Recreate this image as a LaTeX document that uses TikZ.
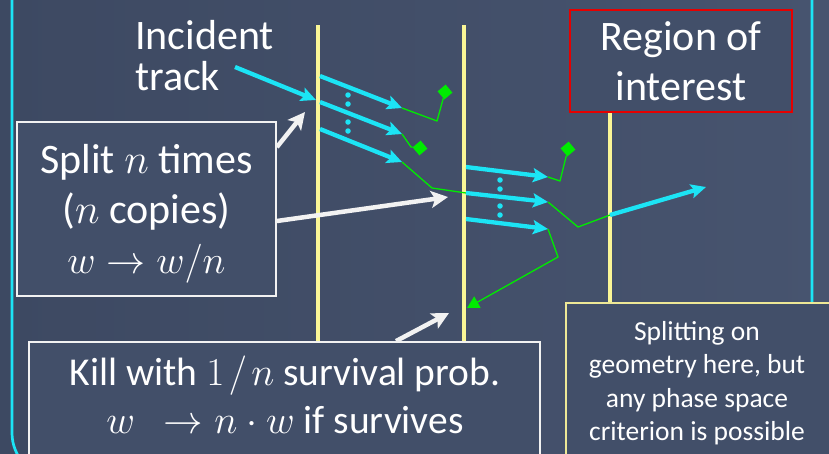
\RequirePackage{fix-cm}
\documentclass[tikz,border=0pt]{standalone}
\usepackage{fontspec}
\setmainfont{Carlito}
\usetikzlibrary{arrows.meta,calc}

\definecolor{bgL}{RGB}{61,73,98}
\definecolor{bgR}{RGB}{71,84,111}
\definecolor{boxfill}{RGB}{66,79,105}
\definecolor{trackcyan}{RGB}{28,228,245}
\definecolor{planeyellow}{RGB}{250,246,150}
\definecolor{noteyellow}{RGB}{238,232,150}
\definecolor{secgreen}{RGB}{0,235,0}
\definecolor{roired}{RGB}{230,0,0}
\definecolor{lightwhite}{RGB}{242,242,242}

\tikzset{
  plane/.style={draw=planeyellow, line width=3.2pt},
  track/.style={draw=trackcyan, line width=4.3pt,
    -{Stealth[length=15pt,width=14pt,inset=3pt]}},
  secondary/.style={draw=secgreen, line width=1.3pt, line join=round},
  hint/.style={draw=lightwhite, line width=4.5pt,
    -{Stealth[length=17pt,width=17pt,inset=4pt]}},
  whitebox/.style={draw=lightwhite, line width=1.8pt, fill=boxfill,
    inner sep=0pt, rectangle},
  dot/.style={circle, fill=trackcyan, inner sep=0pt, minimum size=5.5pt},
  gem/.style={rectangle, fill=secgreen, inner sep=0pt, minimum size=10.5pt, rotate=40},
  big/.style={text=white, inner sep=0pt, font=\fontsize{42}{50}\selectfont},
  bigmath/.style={text=white, inner sep=0pt, font=\fontsize{39}{50}\selectfont},
  mid/.style={text=white, inner sep=0pt, font=\fontsize{39.5}{47}\selectfont},
  small/.style={text=white, inner sep=0pt, font=\fontsize{27.5}{33}\selectfont},
}

\begin{document}
\begin{tikzpicture}[x=1pt,y=-1pt]
  % canvas
  \useasboundingbox (0,0) rectangle (829,453);
  \shade[left color=bgL, right color=bgR] (0,0) rectangle (829,453);

  % outer rounded frame
  \draw[trackcyan, line width=2.7pt, rounded corners=45pt] (12,-60) rectangle (812,478);

  % splitting planes
  \draw[plane] (318,25) -- (318,350);
  \draw[plane] (464,25) -- (464,350);
  \draw[plane] (610,112) -- (610,303);

  % boxes
  \node[whitebox, minimum width=259pt, minimum height=174pt] (split) at (146.5,209) {};
  \node[whitebox, minimum width=511pt, minimum height=128pt] (kill) at (284.5,406) {};
  \node[rectangle, draw=roired, line width=2.5pt, fill=boxfill, inner sep=0pt,
        minimum width=222pt, minimum height=102pt] (roi) at (681,61) {};
  \node[rectangle, draw=noteyellow, line width=1.8pt, fill=boxfill, inner sep=0pt,
        minimum width=279pt, minimum height=177pt] (note) at (705.5,391.5) {};

  % points along the tracks
  \coordinate (inc0) at (235,67);
  \coordinate (inc1) at (316,100);
  \coordinate (a1s) at (320,76);  \coordinate (a1e) at (402,108);
  \coordinate (a2s) at (320,102); \coordinate (a2e) at (402,134);
  \coordinate (a3s) at (320,129); \coordinate (a3e) at (402,162);
  \coordinate (b1s) at (466,167); \coordinate (b1e) at (548,177);
  \coordinate (b2s) at (466,193); \coordinate (b2e) at (548,202);
  \coordinate (b3s) at (466,219); \coordinate (b3e) at (548,229);
  \coordinate (c1s) at (610,215); \coordinate (c1e) at (706,187);
  \coordinate (g1) at (437,121);
  \coordinate (g2) at (411,147);
  \coordinate (g3) at (432,188);
  \coordinate (h1) at (560,181);
  \coordinate (h2) at (578,227);
  \coordinate (h3) at (558,257);
  \coordinate (back) at (467,308);

  % secondaries that end
  \node[gem] (d1) at (445,92) {};
  \node[gem] (d2) at (420,148) {};
  \node[gem] (d3) at (568,149) {};

  % secondary (green) paths
  \draw[secondary] (a1e) -- (g1) -- (d1);
  \draw[secondary] (a2e) -- (g2) -- (d2);
  \draw[secondary] (a3e) -- (g3) -- (b2s);
  \draw[secondary] (b1e) -- (h1) -- (d3);
  \draw[secondary] (b2e) -- (h2) -- (c1s);
  \draw[secondary, -{Triangle[length=12pt,width=13pt]}] (b3e) -- (h3) -- (back);

  % cyan tracks
  \draw[track] (inc0) -- (inc1);
  \draw[track] (a1s) -- (a1e);
  \draw[track] (a2s) -- (a2e);
  \draw[track] (a3s) -- (a3e);
  \draw[track] (b1s) -- (b1e);
  \draw[track] (b2s) -- (b2e);
  \draw[track] (b3s) -- (b3e);
  \draw[track] (c1s) -- (c1e);

  % copies indicated by dots
  \foreach \y [count=\i] in {95,104,122,131} \node[dot] (p\i) at (348,\y) {};
  \foreach \y [count=\i] in {180,189,206,215} \node[dot] (q\i) at (500,\y) {};

  % pointers from the boxes
  \coordinate (t1) at (305,112);
  \coordinate (t2) at (448,197);
  \coordinate (t3) at (449,313);
  \draw[hint] ($(split.north east)+(0,26)$) -- (t1);
  \draw[hint] ($(split.east)+(0,12)$) -- (t2);
  \draw[hint] ($(kill.north)+(111.5,0)$) -- (t3);

  % labels
  \node[big, anchor=base west] (incA) at (135,49) {Incident};
  \node[big, anchor=base west] (incB) at (135,90) {track};

  \node[big, anchor=base] (splA) at (146.5,173) {Split $n$ times};
  \node[big, anchor=base] (splB) at (146.5,223) {($n$ copies)};
  \node[bigmath, anchor=base] (splC) at (146.5,273) {$w \to w/n$};

  \node[big, anchor=base] (roiA) at (681,50) {Region of};
  \node[big, anchor=base] (roiB) at (681,100) {interest};

  \node[mid, anchor=base] (killA) at (285,385)
    {Kill with \smash{$1\mkern2mu/\mkern2mu n$} survival prob.};
  \node[mid, anchor=base] (killB) at (285,433)
    {\smash{$w\ \ \to n\cdot w$} if survives};

  \node[small, anchor=base] (noteA) at (697,340) {Splitting on};
  \node[small, anchor=base] (noteB) at (697,373) {geometry here, but};
  \node[small, anchor=base] (noteC) at (697,407) {any phase space};
  \node[small, anchor=base] (noteD) at (697,440) {criterion is possible};
\end{tikzpicture}
\end{document}
